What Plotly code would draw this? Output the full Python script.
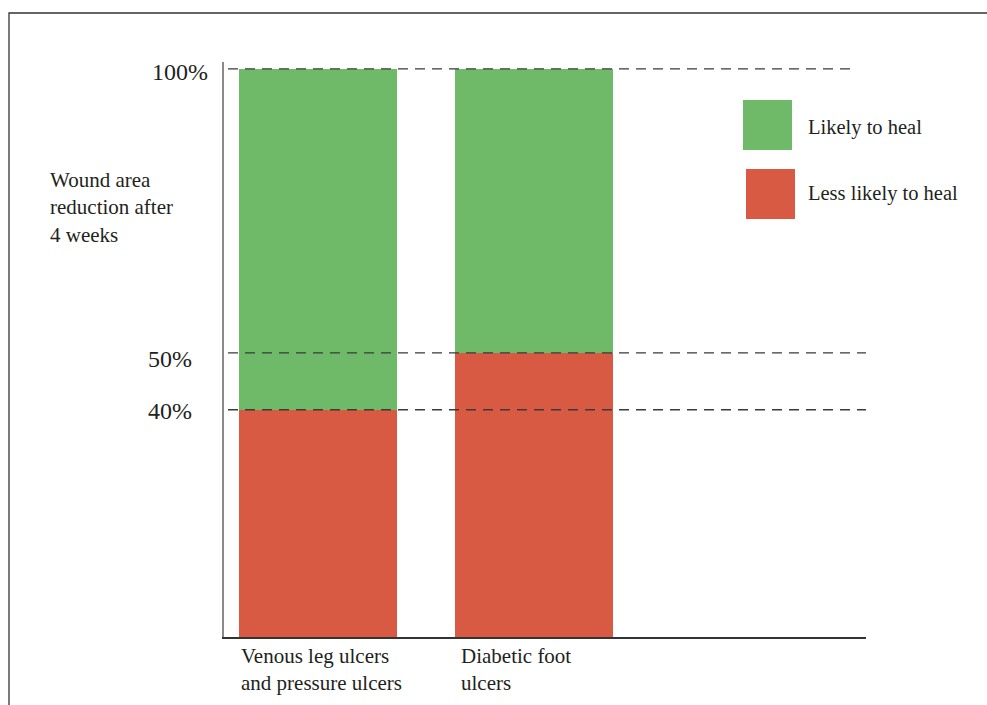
import plotly.graph_objects as go

categories = ["Venous leg ulcers<br>and pressure ulcers", "Diabetic foot<br>ulcers"]
less_likely = [40, 50]
likely = [60, 50]
tick_vals = [100, 50, 40]
tick_text = ["100%", "50%", "40%"]
series_names = ["Likely to heal", "Less likely to heal"]
y_title = "Wound area<br>reduction after<br>4 weeks"

GREEN = "#6FBA69"
RED = "#D95A42"
TXT = "#231F20"
FONT = "Liberation Serif"

W, H = 987, 705
L, R, T, B = 224, 121, 62, 68
pw, ph = W - L - R, H - T - B

xpos = [0, 1]
bw = 0.731

def px2paper_x(px):
    return (px - L) / pw

def px2paper_y(py):
    return (H - B - py) / ph

fig = go.Figure()
fig.add_trace(go.Bar(x=xpos, y=less_likely, marker_color=RED, width=bw,
                     marker_line_width=0, name=series_names[1], showlegend=False))
fig.add_trace(go.Bar(x=xpos, y=likely, marker_color=GREEN, width=bw,
                     marker_line_width=0, name=series_names[0], showlegend=False))

shapes = []
# dashed reference lines
for v, xe in zip(tick_vals, [857, 866, 866]):
    shapes.append(dict(type="line", xref="paper", yref="y",
                       x0=px2paper_x(228), x1=px2paper_x(xe), y0=v, y1=v,
                       line=dict(color="#3a3a3a", width=1.3, dash="10px,7px"),
                       layer="above"))
# outer frame
shapes.append(dict(type="rect", xref="paper", yref="paper",
                   x0=px2paper_x(9), x1=px2paper_x(1100),
                   y0=px2paper_y(800), y1=px2paper_y(13),
                   line=dict(color="#333333", width=1.3), layer="below"))
# legend squares
shapes.append(dict(type="rect", xref="paper", yref="paper",
                   x0=px2paper_x(743), x1=px2paper_x(792),
                   y0=px2paper_y(150), y1=px2paper_y(100),
                   fillcolor=GREEN, line=dict(width=0)))
shapes.append(dict(type="rect", xref="paper", yref="paper",
                   x0=px2paper_x(746), x1=px2paper_x(795),
                   y0=px2paper_y(219), y1=px2paper_y(169),
                   fillcolor=RED, line=dict(width=0)))

annotations = []
# tick labels
for v, t, xr, ys in zip(tick_vals, tick_text, [210, 194, 194], [-3, -6, -1]):
    annotations.append(dict(x=px2paper_x(xr), y=v, xref="paper", yref="y",
                            text=t, showarrow=False, xanchor="right", yanchor="middle",
                            font=dict(family=FONT, size=24, color=TXT), yshift=ys))
# y title
annotations.append(dict(x=px2paper_x(48), y=px2paper_y(207), xref="paper", yref="paper",
                        text=y_title, showarrow=False, xanchor="left", yanchor="middle",
                        align="left", font=dict(family=FONT, size=21, color=TXT)))
# category labels
for xp, c, dx in zip(xpos, categories, [0, 4]):
    annotations.append(dict(x=xp - bw / 2, y=0, xref="x", yref="y", text=c,
                            showarrow=False, xanchor="left", yanchor="top", align="left",
                            xshift=dx, yshift=-5,
                            font=dict(family=FONT, size=21, color=TXT)))
# legend labels
for name, yy in zip(series_names, [127, 193]):
    annotations.append(dict(x=px2paper_x(806), y=px2paper_y(yy), xref="paper", yref="paper",
                            text=name, showarrow=False, xanchor="left", yanchor="middle",
                            font=dict(family=FONT, size=20.5, color=TXT)))

fig.update_layout(
    width=W, height=H,
    margin=dict(l=L, r=R, t=T, b=B, pad=0),
    barmode="stack",
    plot_bgcolor="white", paper_bgcolor="white",
    showlegend=False,
    shapes=shapes, annotations=annotations,
    xaxis=dict(range=[-0.435, 2.537], showticklabels=False, ticks="",
               showgrid=False, zeroline=False, showline=True,
               linecolor="#333333", linewidth=2),
    yaxis=dict(range=[0, 101.2], showticklabels=False, ticks="",
               showgrid=False, zeroline=False, showline=True,
               linecolor="#8a8a8a", linewidth=2),
)

fig.write_html("out.html")
